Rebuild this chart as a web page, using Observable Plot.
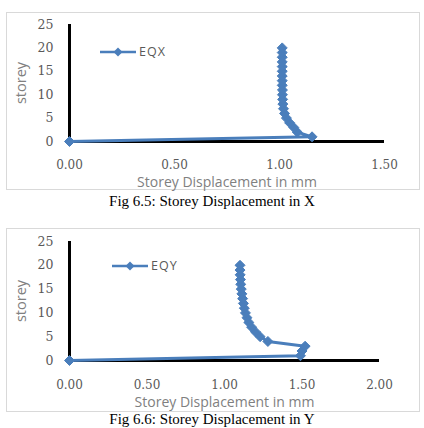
<!DOCTYPE html>
<html>
<head>
<meta charset="utf-8">
<script src="https://cdn.jsdelivr.net/npm/d3@7"></script>
<script src="https://cdn.jsdelivr.net/npm/@observablehq/plot@0.6"></script>
<style>
  html, body { margin: 0; padding: 0; background: #fff; width: 424px; height: 428px; overflow: hidden; }
  .panel { position: absolute; left: 6px; width: 414px; border: 1px solid #d9d9d9; box-sizing: border-box; }
  .chart { position: absolute; left: 0; }
  .legend { position: absolute; display: flex; align-items: center; font-family: "Open Sans", sans-serif; font-size: 12.5px; color: #595959; letter-spacing: 1px; }
  .legend svg { margin-right: 3px; }
  .caption { position: absolute; left: 0; width: 424px; text-align: center; font-family: "Liberation Serif", "Times New Roman", serif; font-size: 15px; line-height: 18px; color: #000; }
</style>
</head>
<body>
<div class="panel" style="top:12px;height:178px"></div>
<div class="panel" style="top:228px;height:184px"></div>
<div id="c1" class="chart" style="top:0px"></div>
<div id="c2" class="chart" style="top:214px"></div>
<div id="l1" class="legend" style="left:100px;top:43px"></div>
<div id="l2" class="legend" style="left:112px;top:257px"></div>
<div class="caption" style="top:192px">Fig 6.5: Storey Displacement in X</div>
<div class="caption" style="top:410px">Fig 6.6: Storey Displacement in Y</div>
<script>
const storeys = [0, 1, 2, 3, 4, 5, 6, 7, 8, 9, 10, 11, 12, 13, 14, 15, 16, 17, 18, 19, 20];
const eqx = [0, 1.155, 1.085, 1.068, 1.048, 1.033, 1.024, 1.019, 1.016, 1.015, 1.014, 1.014, 1.013, 1.013, 1.013, 1.013, 1.013, 1.013, 1.013, 1.013, 1.013];
const eqy = [0, 1.49, 1.50, 1.52, 1.28, 1.23, 1.20, 1.175, 1.157, 1.145, 1.135, 1.128, 1.122, 1.117, 1.112, 1.108, 1.105, 1.103, 1.101, 1.100, 1.100];
const xTicksX = [0, 0.5, 1.0, 1.5];
const xTicksY = [0, 0.5, 1.0, 1.5, 2.0];
const yTicks = [0, 5, 10, 15, 20, 25];
const seriesNames = ["EQX", "EQY"];
const xTitle = "Storey Displacement in mm";
const yTitle = "storey";
const blue = "#4a7ebb";

function chart(values, xTicks, opts) {
  const data = storeys.map((s, i) => ({storey: s, disp: values[i]}));
  const xmax = xTicks[xTicks.length - 1];
  return Plot.plot({
    width: 424,
    height: opts.height,
    marginLeft: 69,
    marginRight: opts.marginRight,
    marginTop: opts.marginTop,
    marginBottom: opts.marginBottom,
    style: {background: "transparent", overflow: "visible"},
    x: {domain: [0, xmax]},
    y: {domain: [0, 25]},
    marks: [
      Plot.axisX({ticks: xTicks, tickFormat: d3.format(".2f"), tickSize: 0, tickPadding: opts.xPad, label: null,
        fontFamily: "DejaVu Serif", fontSize: 12, fill: "#595959"}),
      Plot.axisX({ticks: [], tickSize: 0, label: xTitle, labelArrow: "none", labelAnchor: "center", labelOffset: opts.xLabelOffset,
        fontFamily: "Open Sans", fontSize: 14, fill: "#808080"}),
      Plot.axisY({ticks: yTicks, tickSize: 0, tickPadding: 16, label: null,
        fontFamily: "DejaVu Serif", fontSize: 12.5, fill: "#595959"}),
      Plot.axisY({ticks: [], tickSize: 0, label: yTitle, labelArrow: "none", labelAnchor: "center", labelOffset: 54,
        fontFamily: "Open Sans", fontSize: 14.5, fill: "#808080"}),
      Plot.ruleY([0], {stroke: "#000", strokeWidth: 3}),
      Plot.ruleX([0], {stroke: "#000", strokeWidth: 3}),
      Plot.line(data, {x: "disp", y: "storey", stroke: blue, strokeWidth: 3}),
      Plot.dot(data, {x: "disp", y: "storey", symbol: "diamond2", r: 4.5, fill: blue, stroke: blue, strokeWidth: 1})
    ]
  });
}

function legend(el, name) {
  el.innerHTML = `<svg width="36" height="12"><line x1="0" y1="6" x2="36" y2="6" stroke="${blue}" stroke-width="2.5"/><path d="M18 1.5 L22.5 6 L18 10.5 L13.5 6 Z" fill="${blue}"/></svg><span>${name}</span>`;
}

document.getElementById("c1").appendChild(chart(eqx, xTicksX, {height: 190, marginRight: 40, marginTop: 24, marginBottom: 49, xPad: 19, xLabelOffset: 45}));
document.getElementById("c2").appendChild(chart(eqy, xTicksY, {height: 197, marginRight: 45, marginTop: 27, marginBottom: 51, xPad: 20, xLabelOffset: 46}));
legend(document.getElementById("l1"), seriesNames[0]);
legend(document.getElementById("l2"), seriesNames[1]);
</script>
</body>
</html>
